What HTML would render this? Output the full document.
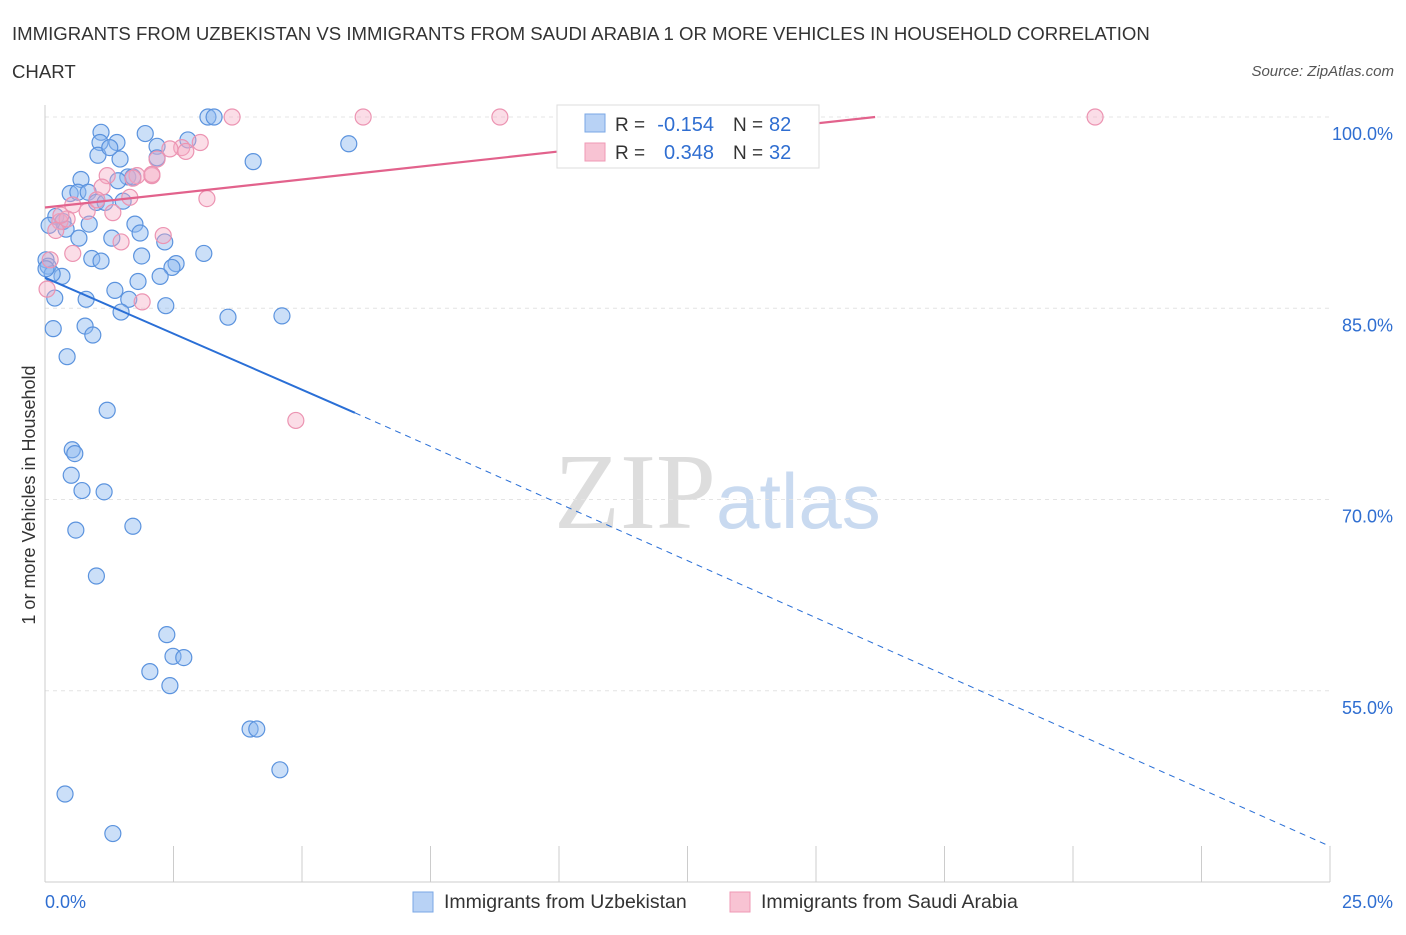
<!DOCTYPE html>
<html><head><meta charset="utf-8"><style>
body{margin:0;background:#fff;font-family:"Liberation Sans",sans-serif;}
#c{position:relative;width:1406px;height:930px;}
</style></head><body>
<div id="c">
<svg id="s" width="1406" height="930">
<text x="12" y="40" font-size="18.6" fill="#333">IMMIGRANTS FROM UZBEKISTAN VS IMMIGRANTS FROM SAUDI ARABIA 1 OR MORE VEHICLES IN HOUSEHOLD CORRELATION</text>
<text x="12" y="78" font-size="18.6" fill="#333">CHART</text>
<text x="1394" y="76" font-size="15" fill="#555" font-style="italic" text-anchor="end">Source: ZipAtlas.com</text>
<text x="716" y="528" font-size="108" fill="#ddd" text-anchor="end" font-family="Liberation Serif">ZIP</text>
<text x="716" y="528" font-size="78" fill="#c9daf0">atlas</text>
<text x="35" y="495" font-size="18" fill="#333" text-anchor="middle" transform="rotate(-90 35 495)">1 or more Vehicles in Household</text>
<g id="grid"></g><g id="marks"></g><g id="trend"></g>
<g>
<rect x="557" y="105" width="262" height="63" fill="#fff" stroke="#ddd"/>
<rect x="585" y="114" width="20" height="18" fill="#b8d2f5" stroke="#7aa7e5"/>
<rect x="585" y="143" width="20" height="18" fill="#f8c3d3" stroke="#ef9ab5"/>
<text x="615" y="131" font-size="19" fill="#333">R =</text>
<text x="714" y="131" font-size="20" fill="#2f6ed1" text-anchor="end">-0.154</text>
<text x="733" y="131" font-size="19" fill="#333">N =</text>
<text x="769" y="131" font-size="20" fill="#2f6ed1">82</text>
<text x="615" y="159" font-size="19" fill="#333">R =</text>
<text x="714" y="159" font-size="20" fill="#2f6ed1" text-anchor="end">0.348</text>
<text x="733" y="159" font-size="19" fill="#333">N =</text>
<text x="769" y="159" font-size="20" fill="#2f6ed1">32</text>
</g>
<g>
<rect x="413" y="892" width="20" height="20" fill="#b8d2f5" stroke="#7aa7e5"/>
<text x="444" y="908" font-size="19.5" fill="#333">Immigrants from Uzbekistan</text>
<rect x="730" y="892" width="20" height="20" fill="#f8c3d3" stroke="#ef9ab5"/>
<text x="761" y="908" font-size="19.5" fill="#333">Immigrants from Saudi Arabia</text>
</g>
</svg></div>
<script>
const yTicks=[100,85,70,55];
const xTickLabels=["0.0%","25.0%"];
const blueX=[3.17,3.29,1.09,1.95,1.07,1.4,2.18,2.78,5.91,1.03,1.46,2.18,4.05,1.26,0.7,1.61,1.71,1.42,0.49,0.64,0.84,1.0,1.17,1.52,0.21,0.35,0.08,0.86,0.41,1.75,1.85,0.66,1.3,2.33,3.09,0.91,1.88,1.09,2.55,2.47,0.02,0.06,0.33,0.14,2.24,1.81,1.36,1.63,0.19,0.8,2.35,1.48,3.56,4.61,0.16,0.78,0.93,0.43,1.21,0.53,0.58,0.51,0.72,1.15,0.6,1.71,1.0,2.37,2.49,2.7,2.04,2.43,3.99,4.12,4.57,0.39,1.32,0.02];
const blueY=[100,100,98.8,98.7,98.0,98.0,97.7,98.2,97.9,97.0,96.7,96.8,96.5,97.6,95.1,95.3,95.3,95.0,94.0,94.1,94.1,93.3,93.3,93.4,92.2,91.8,91.5,91.6,91.2,91.6,90.9,90.5,90.5,90.2,89.3,88.9,89.1,88.7,88.5,88.2,88.8,88.3,87.5,87.7,87.5,87.1,86.4,85.7,85.8,85.7,85.2,84.7,84.3,84.4,83.4,83.6,82.9,81.2,77.0,73.9,73.6,71.9,70.7,70.6,67.6,67.9,64.0,59.4,57.7,57.6,56.5,55.4,52.0,52.0,48.8,46.9,43.8,88.1];
const pinkX=[3.64,6.19,8.85,20.43,3.02,2.66,2.74,2.18,1.79,2.08,1.21,1.11,1.65,3.15,0.54,0.82,1.32,0.29,0.43,0.21,1.48,2.3,0.54,1.89,4.88,0.04,2.43,1.01,0.1,1.71,2.08,0.31];
const pinkY=[100,100,100,100,98.0,97.6,97.3,96.7,95.4,95.4,95.4,94.5,93.7,93.6,93.1,92.6,92.5,91.8,92.0,91.1,90.2,90.7,89.3,85.5,76.2,86.5,97.5,93.5,88.8,95.2,95.5,92.3];
const ns="http://www.w3.org/2000/svg";
const X=v=>45+v*51.4, Y=v=>117+(100-v)*12.75;
function el(t,a,p,name){const e=document.createElementNS(ns,t);for(const k in a)e.setAttribute(k,a[k]);


p.appendChild(e);return e;}
const g=document.getElementById('grid'),m=document.getElementById('marks'),tr=document.getElementById('trend');
yTicks.forEach(t=>{el('line',{x1:45,x2:1330,y1:Y(t),y2:Y(t),stroke:'#e4e4e4','stroke-dasharray':'4,4'},g,'gridline');
const tx=el('text',{x:1393,y:Y(t)+23,'font-size':18,fill:'#2f6ed1','text-anchor':'end'},g,'y-tick-label');tx.textContent=t.toFixed(1)+'%';});
el('line',{x1:45,x2:45,y1:105,y2:882,stroke:'#ccc'},g,'y-axis-line');
el('line',{x1:45,x2:1330,y1:882,y2:882,stroke:'#ccc'},g,'x-axis-line');
for(let i=0;i<=10;i++)el('line',{x1:X(i*2.5),x2:X(i*2.5),y1:846,y2:882,stroke:'#ccc'},g,'x-tick');
let t1=el('text',{x:45,y:908,'font-size':18,fill:'#2f6ed1'},g,'x-tick-label');t1.textContent=xTickLabels[0];
let t2=el('text',{x:1393,y:908,'font-size':18,fill:'#2f6ed1','text-anchor':'end'},g,'x-tick-label');t2.textContent=xTickLabels[1];
blueX.forEach((x,i)=>el('circle',{cx:X(x),cy:Y(blueY[i]),r:8,fill:'rgba(140,185,240,0.45)',stroke:'#5b93de','stroke-width':1.2},m,'blue-point'));
pinkX.forEach((x,i)=>el('circle',{cx:X(x),cy:Y(pinkY[i]),r:8,fill:'rgba(245,170,195,0.4)',stroke:'#ec94b2','stroke-width':1.2},m,'pink-point'));
el('line',{x1:X(0),y1:Y(87.4),x2:X(6.03),y2:Y(76.8),stroke:'#2a6fd6','stroke-width':2},tr,'blue-trend-solid');
el('line',{x1:X(6.03),y1:Y(76.8),x2:X(25),y2:Y(42.8),stroke:'#2a6fd6','stroke-width':1,'stroke-dasharray':'6,5'},tr,'blue-trend-dashed');
el('line',{x1:X(0),y1:Y(92.9),x2:X(16.15),y2:Y(100),stroke:'#e2628c','stroke-width':2.2},tr,'pink-trend');
</script></body></html>
